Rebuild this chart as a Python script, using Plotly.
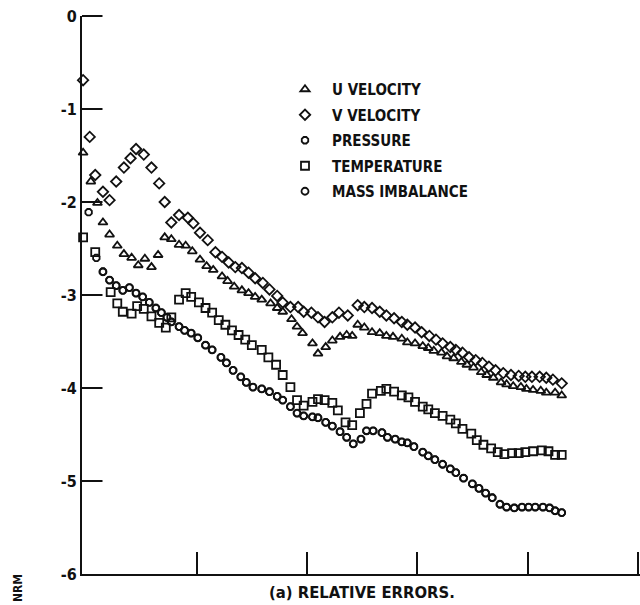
import plotly.graph_objects as go

# ---- data (x in axis units, y = log10 of the relative error) ----
u_x = [-0.03, 0.04, 0.10, 0.15, 0.21, 0.28, 0.34, 0.41, 0.47, 0.53, 0.59, 0.65, 0.71, 0.77, 0.84, 0.90,
       0.96, 1.03, 1.09, 1.15, 1.23, 1.28, 1.34, 1.41, 1.47, 1.53, 1.59, 1.67, 1.73, 1.78, 1.86, 1.91,
       1.96, 2.05, 2.10, 2.17, 2.23, 2.30, 2.36, 2.41, 2.46, 2.52, 2.59, 2.66, 2.72, 2.78, 2.86, 2.91,
       2.98, 3.05, 3.10, 3.15, 3.22, 3.27, 3.33, 3.40, 3.45, 3.51, 3.58, 3.63, 3.69, 3.76, 3.81, 3.87,
       3.94, 3.99, 4.05, 4.12, 4.17, 4.25, 4.31]
u_y = [-1.47, -1.78, -2.01, -2.22, -2.35, -2.47, -2.56, -2.60, -2.68, -2.61, -2.70, -2.57, -2.38, -2.40,
       -2.46, -2.47, -2.53, -2.62, -2.69, -2.73, -2.80, -2.85, -2.91, -2.95, -2.98, -3.02, -3.05, -3.09,
       -3.14, -3.18, -3.26, -3.34, -3.41, -3.52, -3.63, -3.56, -3.49, -3.45, -3.43, -3.44, -3.32, -3.35,
       -3.40, -3.41, -3.44, -3.45, -3.47, -3.51, -3.52, -3.55, -3.57, -3.60, -3.62, -3.66, -3.68, -3.72,
       -3.75, -3.78, -3.83, -3.86, -3.89, -3.94, -3.96, -3.98, -3.99, -4.01, -4.02, -4.03, -4.05, -4.05,
       -4.08]

v_x = [-0.03, 0.03, 0.08, 0.15, 0.21, 0.27, 0.34, 0.40, 0.45, 0.52, 0.59, 0.66, 0.71, 0.77, 0.84, 0.92,
       0.97, 1.03, 1.10, 1.17, 1.23, 1.29, 1.35, 1.41, 1.47, 1.53, 1.60, 1.66, 1.73, 1.78, 1.85, 1.92,
       1.97, 2.04, 2.10, 2.16, 2.23, 2.29, 2.37, 2.46, 2.52, 2.59, 2.66, 2.72, 2.79, 2.86, 2.91, 2.98,
       3.04, 3.11, 3.17, 3.23, 3.30, 3.35, 3.41, 3.47, 3.53, 3.59, 3.65, 3.71, 3.78, 3.85, 3.92, 3.98,
       4.04, 4.11, 4.17, 4.23, 4.31]
v_y = [-0.69, -1.30, -1.71, -1.89, -1.98, -1.78, -1.63, -1.53, -1.43, -1.49, -1.63, -1.80, -2.00, -2.22,
       -2.14, -2.17, -2.23, -2.33, -2.41, -2.54, -2.59, -2.65, -2.70, -2.71, -2.76, -2.82, -2.87, -2.94,
       -3.01, -3.08, -3.13, -3.13, -3.18, -3.19, -3.24, -3.29, -3.24, -3.19, -3.22, -3.11, -3.13, -3.14,
       -3.18, -3.22, -3.25, -3.29, -3.32, -3.35, -3.40, -3.44, -3.48, -3.52, -3.56, -3.59, -3.62, -3.67,
       -3.70, -3.73, -3.77, -3.81, -3.84, -3.86, -3.87, -3.88, -3.88, -3.88, -3.89, -3.91, -3.95]

t_x = [-0.03, 0.08, 0.22, 0.28, 0.33, 0.41, 0.46, 0.52, 0.59, 0.66, 0.72, 0.77, 0.84, 0.90, 0.95, 1.02,
       1.08, 1.14, 1.20, 1.26, 1.32, 1.38, 1.44, 1.50, 1.59, 1.65, 1.72, 1.78, 1.85, 1.91, 1.97, 2.05,
       2.10, 2.16, 2.23, 2.28, 2.35, 2.41, 2.48, 2.54, 2.59, 2.67, 2.72, 2.79, 2.86, 2.92, 2.98, 3.05,
       3.10, 3.16, 3.23, 3.30, 3.35, 3.41, 3.49, 3.54, 3.60, 3.67, 3.73, 3.79, 3.86, 3.92, 3.98, 4.05,
       4.13, 4.19, 4.25, 4.31]
t_y = [-2.38, -2.54, -2.97, -3.09, -3.18, -3.20, -3.12, -3.15, -3.23, -3.30, -3.35, -3.24, -3.05, -2.98,
       -3.02, -3.08, -3.14, -3.19, -3.27, -3.32, -3.38, -3.43, -3.48, -3.54, -3.59, -3.67, -3.75, -3.86,
       -3.99, -4.13, -4.19, -4.15, -4.12, -4.13, -4.16, -4.24, -4.37, -4.40, -4.27, -4.17, -4.06, -4.03,
       -4.01, -4.04, -4.08, -4.10, -4.15, -4.20, -4.23, -4.27, -4.30, -4.34, -4.38, -4.44, -4.49, -4.56,
       -4.61, -4.65, -4.69, -4.71, -4.70, -4.70, -4.69, -4.68, -4.67, -4.68, -4.72, -4.72]

m_x = [0.15, 0.21, 0.27, 0.33, 0.39, 0.45, 0.51, 0.57, 0.63, 0.68, 0.73, 0.77, 0.84, 0.89, 0.95, 1.01,
       1.08, 1.14, 1.22, 1.27, 1.33, 1.40, 1.45, 1.51, 1.59, 1.66, 1.73, 1.78, 1.85, 1.91, 1.97, 2.05,
       2.10, 2.17, 2.23, 2.30, 2.36, 2.42, 2.49, 2.54, 2.60, 2.68, 2.73, 2.80, 2.86, 2.91, 2.97, 3.05,
       3.10, 3.16, 3.23, 3.30, 3.35, 3.42, 3.50, 3.56, 3.62, 3.68, 3.75, 3.81, 3.88, 3.95, 4.01, 4.07,
       4.14, 4.20, 4.25, 4.31]
m_y = [-2.75, -2.84, -2.90, -2.95, -2.92, -2.98, -3.02, -3.08, -3.14, -3.19, -3.24, -3.29, -3.34, -3.38,
       -3.41, -3.46, -3.54, -3.59, -3.67, -3.73, -3.81, -3.88, -3.94, -3.99, -4.01, -4.04, -4.09, -4.13,
       -4.20, -4.27, -4.30, -4.31, -4.32, -4.37, -4.41, -4.47, -4.53, -4.60, -4.55, -4.46, -4.46, -4.48,
       -4.53, -4.55, -4.58, -4.59, -4.63, -4.69, -4.73, -4.77, -4.82, -4.87, -4.91, -4.97, -5.03, -5.08,
       -5.13, -5.18, -5.25, -5.28, -5.29, -5.28, -5.28, -5.28, -5.28, -5.29, -5.32, -5.34]

# pressure: two early points of its own, then it lies on the mass-imbalance curve
p_x = [0.02, 0.09] + m_x
p_y = [-2.11, -2.60] + m_y

y_ticks = [0, -1, -2, -3, -4, -5, -6]
y_tick_text = ["0", "-1", "-2", "-3", "-4", "-5", "-6"]
x_ticks = [1, 2, 3, 4, 5]
x_range = [-0.04, 5.02]
y_range = [-6, 0]

FONT = "DejaVu Sans Condensed"
INK = "#111111"
TICK_LEN_PX = 22

series = [
    ("U VELOCITY", u_x, u_y, "triangle-up-open", 8),
    ("V VELOCITY", v_x, v_y, "diamond-open", 8),
    ("PRESSURE", p_x, p_y, "octagon-open", 7),
    ("TEMPERATURE", t_x, t_y, "square-open", 8),
    ("MASS IMBALANCE", m_x, m_y, "circle-open", 7),
]

fig = go.Figure()
for i, (name, xs, ys, sym, size) in enumerate(series):
    fig.add_trace(go.Scatter(
        x=xs, y=ys, mode="markers", name=name,
        legendgroup=name, legendrank=i,
        cliponaxis=False,
        marker=dict(symbol=sym, size=size, color=INK, line=dict(color=INK, width=1.8)),
    ))

# inward y tick marks: head-less arrows pointing at the axis at each labelled value
tick_marks = [
    dict(xref="paper", yref="y", x=0, y=v, ax=TICK_LEN_PX, ay=0, axref="pixel", ayref="pixel",
         text="", showarrow=True, arrowhead=0, arrowwidth=2, arrowcolor=INK,
         standoff=0, startstandoff=0)
    for v in y_ticks[:-1]
]

axis_common = dict(
    showgrid=False, zeroline=False, showline=True, linecolor=INK, linewidth=2,
)

# plot area: 82..640 px across, 16..574 px down
fig.update_layout(
    width=640, height=605,
    margin=dict(l=82, r=0, t=16, b=31),
    paper_bgcolor="white", plot_bgcolor="white",
    font=dict(family=FONT, size=15, color=INK),
    showlegend=True,
    legend=dict(
        x=(278 - 82) / 558, y=1 - (73 - 16) / 558, xanchor="left", yanchor="top",
        bgcolor="rgba(0,0,0,0)", borderwidth=0,
        font=dict(family=FONT, size=15, color=INK, weight="bold"),
        traceorder="grouped", tracegroupgap=3, itemwidth=44,
    ),
    xaxis=dict(range=x_range, tickvals=x_ticks, showticklabels=False,
               ticks="inside", ticklen=TICK_LEN_PX, tickwidth=2, tickcolor=INK, **axis_common),
    yaxis=dict(range=y_range, tickvals=y_ticks, ticktext=y_tick_text, ticksuffix="  ",
               ticks="", tickfont=dict(family=FONT, size=16, color=INK, weight="bold"),
               **axis_common),
    annotations=tick_marks + [
        dict(text="(a) RELATIVE ERRORS.", xref="paper", yref="paper",
             x=(362 - 82) / 558, y=-(592 - 574) / 558, xanchor="center", yanchor="middle",
             showarrow=False, font=dict(family=FONT, size=16.5, color=INK, weight="bold")),
        dict(text="NRM", xref="paper", yref="paper", textangle=-90,
             x=(18 - 82) / 558, y=-(604 - 574) / 558, xanchor="center", yanchor="bottom",
             showarrow=False, font=dict(family=FONT, size=12, color=INK, weight="bold")),
    ],
)

fig.write_html("out.html")
